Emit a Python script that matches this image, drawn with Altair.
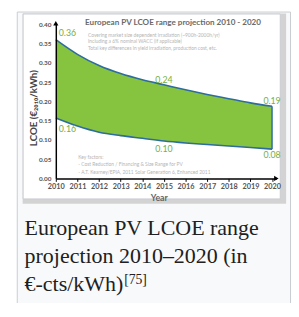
import altair as alt
import pandas as pd

# ---- data ----
years = list(range(2010, 2021))
upper = [0.360, 0.322, 0.293, 0.272, 0.256, 0.243, 0.230, 0.218, 0.207, 0.196, 0.187]
lower = [0.157, 0.136, 0.120, 0.111, 0.104, 0.097, 0.092, 0.088, 0.084, 0.080, 0.076]
label_years = [2010, 2015, 2020]
upper_labels = ["0.36", "0.24", "0.19"]
lower_labels = ["0.16", "0.10", "0.08"]
y_ticks = [0.00, 0.05, 0.10, 0.15, 0.20, 0.25, 0.30, 0.35, 0.40]
x_ticks = years

title_text = "European PV LCOE range projection 2010 - 2020"
sub_lines = [
    "Covering market size dependent irradiation (~900h-2000h/yr)",
    "Including a 6% nominal WACC (if applicable)",
    "Total key differences in yield irradiation, production cost, etc.",
]
note_lines = [
    "Key factors:",
    "- Cost Reduction / Financing & Size Range  for PV",
    "- A.T. Kearney/EPIA, 2011 Solar Generation 6, Enhanced 2011",
]
caption_lines = ["European PV LCOE range", "projection 2010\u20132020 (in", "\u20ac-cts/kWh)"]
caption_ref = "[75]"

df = pd.DataFrame({"year": years, "upper": upper, "lower": lower})
rows = []
for i, yr in enumerate(label_years):
    k = years.index(yr)
    rows.append({"year": yr, "value": upper[k], "text": upper_labels[i], "pos": "upper"})
    rows.append({"year": yr, "value": lower[k], "text": lower_labels[i], "pos": "lower"})
lab = pd.DataFrame(rows)

one = alt.Data(values=[{}])
W, H = 226, 158
FONT = "Lato"
GREEN_TXT = "#72b04a"

xs = alt.Scale(domain=[2010, 2020.2], nice=False, zero=False)
ys = alt.Scale(domain=[0, 0.40], nice=False)
XAX = alt.Axis(values=x_ticks, format="d", title=None, grid=False, tickSize=3, tickColor="black",
               tickWidth=1, labelPadding=1, labelFont=FONT, labelFontSize=7.5, labelFontWeight="bold",
               labelColor="#555", domainColor="black", domainWidth=1.5, zindex=1,
               labelOverlap=False, labelBound=False, labelFlush=False)
YAX = alt.Axis(values=y_ticks, format=".2f", title=None, grid=False, ticks=False, labelPadding=5,
               labelFont=FONT, labelFontSize=6.5, labelFontWeight="bold", labelColor="#555",
               domainColor="black", domainWidth=1.5, zindex=1, labelOverlap=False)

def X(f):
    return alt.X(f, scale=xs, axis=XAX, title=None)

def Y(f):
    return alt.Y(f, scale=ys, axis=YAX, title=None)

# ---- frame (thumbnail box) ----
outer = alt.Chart(one).mark_rect(fill="#f8f9fa", stroke="#c8ccd1", strokeWidth=1).encode(
    x=alt.value(-39.5), x2=alt.value(240.5), y=alt.value(-12.5), y2=alt.value(290))
band = alt.Chart(one).mark_rect(fill="#d3d3d3").encode(
    x=alt.value(-34), x2=alt.value(236), y=alt.value(-11), y2=alt.value(184))
img = alt.Chart(one).mark_rect(fill="white", stroke="#c8ccd1", strokeWidth=1).encode(
    x=alt.value(-33.5), x2=alt.value(230), y=alt.value(-10.5), y2=alt.value(179))

# ---- data marks ----
base = alt.Chart(df)
area = base.mark_area(color="#86c440", interpolate="monotone").encode(
    x=X("year:Q"), y=Y("lower:Q"), y2="upper:Q")
line_up = base.mark_line(color="#2d6c9e", strokeWidth=1.6, interpolate="monotone").encode(
    x=X("year:Q"), y=Y("upper:Q"))
line_lo = base.mark_line(color="#2d6c9e", strokeWidth=1.6, interpolate="monotone").encode(
    x=X("year:Q"), y=Y("lower:Q"))
edge = base.transform_filter(alt.datum.year == 2020).mark_rule(color="#2d6c9e", strokeWidth=1.5).encode(
    x=X("year:Q"), y=Y("lower:Q"), y2="upper:Q")

labbase = alt.Chart(lab)
def labels(cond, dx, dy, align):
    return labbase.transform_filter(cond).mark_text(
        font=FONT, fontSize=9, color=GREEN_TXT, dx=dx, dy=dy, align=align, baseline="middle").encode(
        x=X("year:Q"), y=Y("value:Q"), text="text:N")

l_ul = labels((alt.datum.pos == "upper") & (alt.datum.year == 2010), 3, -7, "left")
l_ur = labels((alt.datum.pos == "upper") & (alt.datum.year > 2010), 0, -5, "center")
l_ll = labels((alt.datum.pos == "lower") & (alt.datum.year == 2010), 3, 11, "left")
l_lm = labels((alt.datum.pos == "lower") & (alt.datum.year == 2015), 0, 8, "center")
l_lr = labels((alt.datum.pos == "lower") & (alt.datum.year == 2020), 0, 6, "center")

# axis arrows
arr_y = alt.Chart(one).mark_point(shape="triangle-up", filled=True, size=28, color="black", opacity=1).encode(
    x=alt.value(0), y=alt.value(-1))
arr_x = alt.Chart(one).mark_point(shape="triangle-right", filled=True, size=28, color="black", opacity=1).encode(
    x=alt.value(W), y=alt.value(H))

def txt(s, x, y, size, color, weight="normal", align="left", baseline="middle", font=FONT, angle=0):
    kw = dict(font=font, fontSize=size, color=color, fontWeight=weight, align=align, baseline=baseline)
    if angle:
        kw["angle"] = angle
    return alt.Chart(one).mark_text(**kw).encode(x=alt.value(x), y=alt.value(y), text=alt.value(s))

texts = [
    txt(title_text, 30, -1, 8.3, "#6a6a6a", weight="bold"),
    txt("LCOE (\u20ac\u2082\u2080\u2081\u2080/kWh)", -22, 86, 10, "#444", weight="bold", align="center", angle=270),
    txt("Year", 106, 178, 9, "#666", weight="bold", align="center"),
]
for i, s in enumerate(sub_lines):
    texts.append(txt(s, 33, 11 + i * 6.5, 5, "#b5b5b5"))
for i, s in enumerate(note_lines):
    texts.append(txt(s, 23, 136 + i * 7.5, 5, "#b5b5b5"))
for i, s in enumerate(caption_lines):
    texts.append(txt(s, -32, 216 + i * 28.5, 22.5, "#202122", baseline="alphabetic", font="Liberation Serif"))
texts.append(txt(caption_ref, 70, 266, 14, "#202122", baseline="alphabetic", font="Liberation Serif"))

chart = alt.layer(
    outer, band, img, area, line_up, line_lo, edge, l_ul, l_ur, l_ll, l_lm, l_lr, arr_y, arr_x, *texts
).properties(
    width=W, height=H,
    padding={"left": 49, "top": 13, "right": 15, "bottom": 124},
    autosize=alt.AutoSizeParams(type="none"),
).configure_view(stroke=None).configure(background="white")

chart.save("out.html", embed_options={"renderer": "svg", "actions": False})
